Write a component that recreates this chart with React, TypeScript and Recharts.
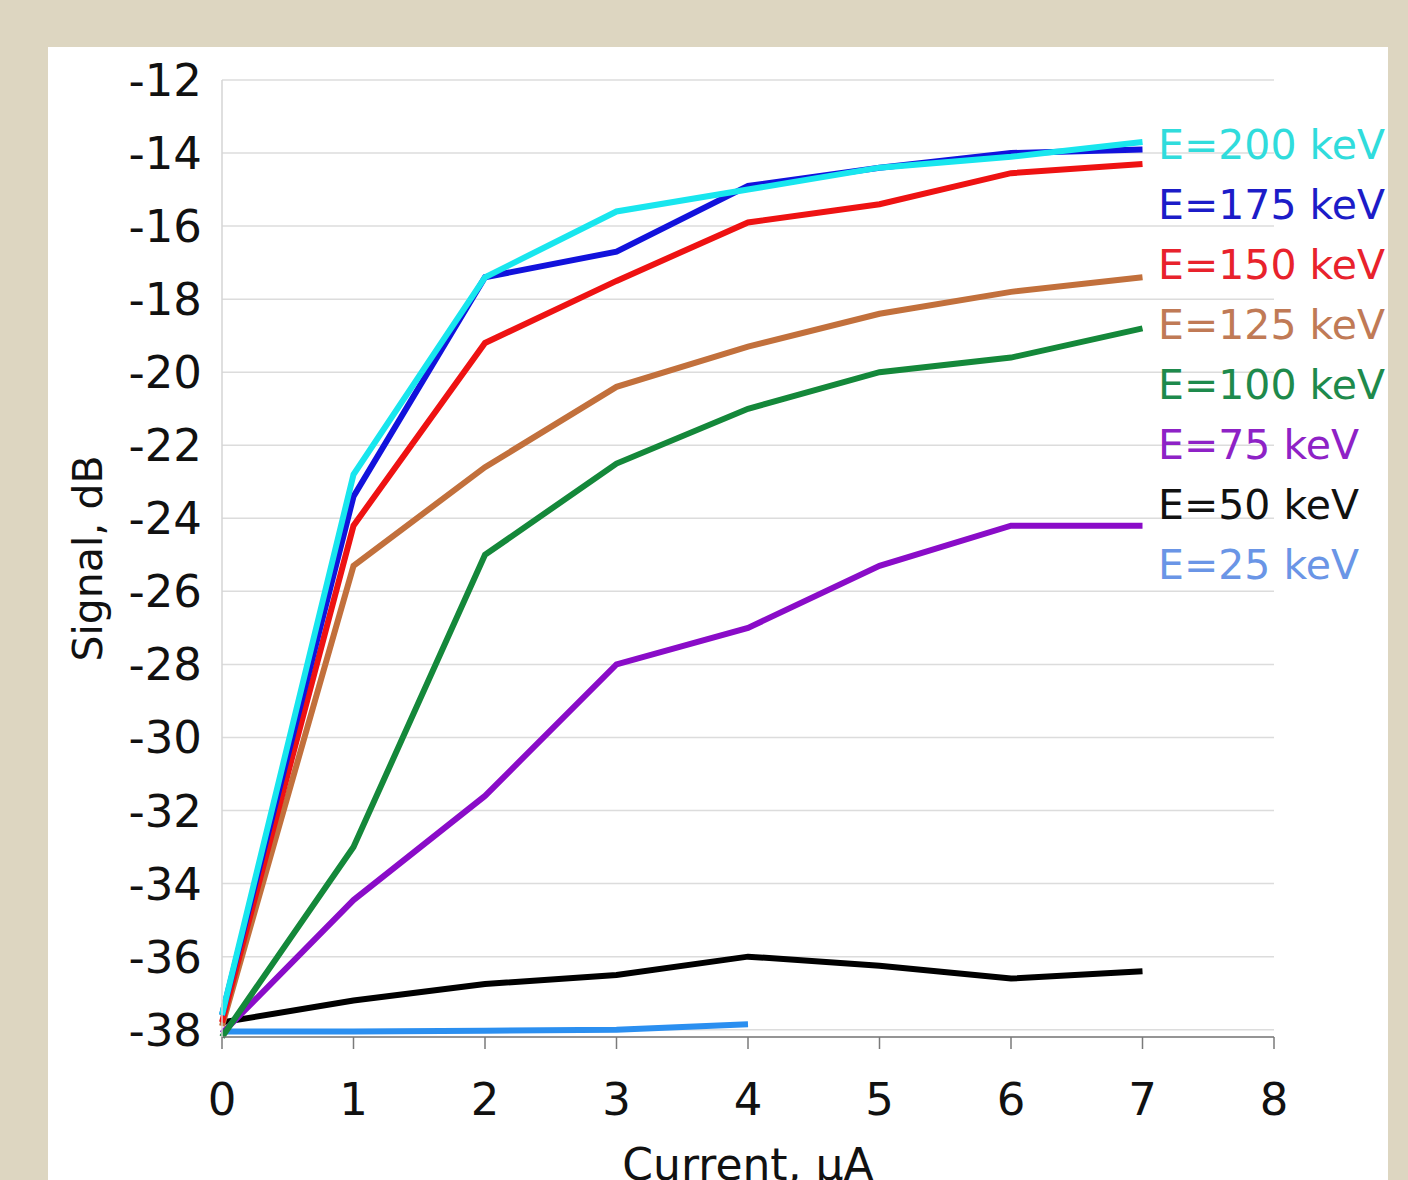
import React from "react";
import { LineChart, Line, XAxis, YAxis, CartesianGrid } from "recharts";

const current = [0, 1, 2, 3, 4, 5, 6, 7];

const e200 = [-37.6, -22.8, -17.4, -15.6, -15.0, -14.4, -14.1, -13.7];
const e175 = [-37.6, -23.4, -17.4, -16.7, -14.9, -14.4, -14.0, -13.9];
const e150 = [-37.8, -24.2, -19.2, -17.5, -15.9, -15.4, -14.55, -14.3];
const e125 = [-37.9, -25.3, -22.6, -20.4, -19.3, -18.4, -17.8, -17.4];
const e100 = [-38.2, -33.0, -25.0, -22.5, -21.0, -20.0, -19.6, -18.8];
const e75 = [-38.1, -34.45, -31.6, -28.0, -27.0, -25.3, -24.2, -24.2];
const e50 = [-37.8, -37.2, -36.75, -36.5, -36.0, -36.25, -36.6, -36.4];
const e25 = [-38.05, -38.05, -38.03, -38.0, -37.85];

const yTicks = [-38, -36, -34, -32, -30, -28, -26, -24, -22, -20, -18, -16, -14, -12];
const xTicks = [0, 1, 2, 3, 4, 5, 6, 7, 8];

const series = [
  { key: "e25", name: "E=25 keV", values: e25, stroke: "#2b8ff0", text: "#6a95e6" },
  { key: "e50", name: "E=50 keV", values: e50, stroke: "#000000", text: "#111111" },
  { key: "e75", name: "E=75 keV", values: e75, stroke: "#8a0cc8", text: "#8e22c6" },
  { key: "e100", name: "E=100 keV", values: e100, stroke: "#14883a", text: "#1e8a4c" },
  { key: "e125", name: "E=125 keV", values: e125, stroke: "#c2703c", text: "#c07a56" },
  { key: "e150", name: "E=150 keV", values: e150, stroke: "#ee1212", text: "#e8222c" },
  { key: "e175", name: "E=175 keV", values: e175, stroke: "#1212dc", text: "#1c1cc8" },
  { key: "e200", name: "E=200 keV", values: e200, stroke: "#18e6ee", text: "#30dcdc" },
];

const data = current.map((c, i) => {
  const row: Record<string, number | null> = { current: c };
  series.forEach((s) => {
    row[s.key] = i < s.values.length ? s.values[i] : null;
  });
  return row;
});

const FONT = "'DejaVu Sans', sans-serif";

export default function App() {
  return (
    <div
      style={{
        position: "fixed",
        left: 0,
        top: 0,
        width: 1408,
        height: 1180,
        overflow: "hidden",
        background: "#ddd6c1",
      }}
    >
      <div
        style={{
          position: "absolute",
          left: 48,
          top: 47,
          width: 1340,
          height: 1140,
          background: "#ffffff",
        }}
      />
      <div style={{ position: "absolute", left: 0, top: 0 }}>
        <LineChart
          width={1408}
          height={1180}
          data={data}
          margin={{ top: 80, right: 134, bottom: 43, left: 122 }}
        >
          <CartesianGrid vertical={false} stroke="#dcdcdc" strokeWidth={1.5} />
          <XAxis
            dataKey="current"
            type="number"
            domain={[0, 8]}
            ticks={xTicks}
            height={100}
            stroke="#7a7a7a"
            strokeWidth={1.5}
            tickSize={12}
            tickMargin={34}
            tick={{ fill: "#111", fontSize: 45, fontFamily: FONT }}
            label={{
              value: "Current, µA",
              position: "bottom",
              offset: 12,
              fill: "#111",
              fontSize: 44,
              fontFamily: FONT,
            }}
          />
          <YAxis
            type="number"
            domain={[-38, -12]}
            ticks={yTicks}
            interval={0}
            width={100}
            stroke="#d4d4d4"
            strokeWidth={1.5}
            tickLine={false}
            tickMargin={14}
            tick={{ fill: "#111", fontSize: 45, fontFamily: FONT }}
            label={{
              value: "Signal, dB",
              angle: -90,
              position: "left",
              offset: 35,
              fill: "#111",
              fontSize: 41,
              fontFamily: FONT,
              style: { textAnchor: "middle" },
            }}
          />
          {series.map((s) => (
            <Line
              key={s.key}
              dataKey={s.key}
              name={s.name}
              type="linear"
              stroke={s.stroke}
              strokeWidth={6}
              dot={false}
              activeDot={false}
              connectNulls={false}
              isAnimationActive={false}
            />
          ))}
        </LineChart>
      </div>
      <div
        style={{
          position: "absolute",
          left: 1158,
          top: 115,
          fontFamily: FONT,
          fontSize: 41,
          lineHeight: "60px",
        }}
      >
        {[...series].reverse().map((s) => (
          <div key={s.key} style={{ color: s.text, whiteSpace: "nowrap" }}>
            {s.name}
          </div>
        ))}
      </div>
    </div>
  );
}
